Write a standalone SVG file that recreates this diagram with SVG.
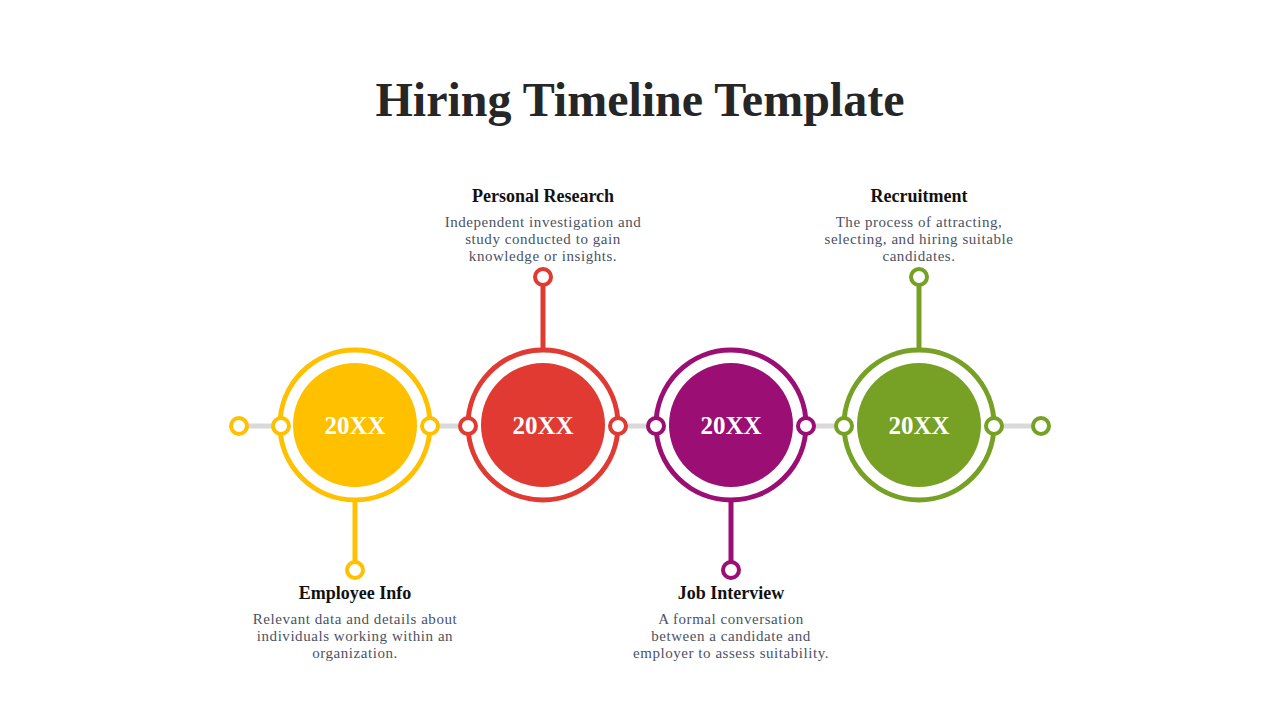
<svg xmlns="http://www.w3.org/2000/svg" width="1280" height="720" viewBox="0 0 1280 720">
<style>
.title{font-family:"Liberation Serif","DejaVu Serif",serif;font-weight:bold;font-size:48px;fill:#262626;text-anchor:middle}
.h{font-family:"Liberation Serif","DejaVu Serif",serif;font-weight:bold;font-size:18px;fill:#111;text-anchor:middle}
.d{font-family:"Liberation Serif","DejaVu Serif",serif;font-size:15px;letter-spacing:0.55px;fill:#4b5263;text-anchor:middle}
.yr{font-family:"Liberation Serif","DejaVu Serif",serif;font-weight:bold;font-size:25px;fill:#fff;text-anchor:middle}
.dot{fill:#fff;stroke-width:4}
.ring{fill:#fff;stroke-width:5}
.stem{stroke-width:5;fill:none}
</style>
<rect width="1280" height="720" fill="#fff"/>
<text class="title" x="640" y="116">Hiring Timeline Template</text>
<g id="connectors">
<line x1="239" y1="426" x2="1041" y2="426" stroke="#d9d9d9" stroke-width="5"/>
<line class="stem" x1="355" y1="500" x2="355" y2="562" stroke="#FFC000"/>
<line class="stem" x1="543" y1="285" x2="543" y2="350" stroke="#E03A33"/>
<line class="stem" x1="731" y1="500" x2="731" y2="562" stroke="#9B0E74"/>
<line class="stem" x1="919" y1="285" x2="919" y2="350" stroke="#76A125"/>
<circle class="dot" cx="239" cy="426" r="8" stroke="#FFC000"/>
<circle class="dot" cx="1041" cy="426" r="8" stroke="#76A125"/>
</g>
<g id="node1">
<circle class="ring" cx="355" cy="425" r="75" stroke="#FFC000"/>
<circle cx="355" cy="425" r="62" fill="#FFC000"/>
<circle class="dot" cx="281" cy="426" r="8" stroke="#FFC000"/>
<circle class="dot" cx="430" cy="426" r="8" stroke="#FFC000"/>
<circle class="dot" cx="355" cy="570" r="8" stroke="#FFC000"/>
<text class="yr" x="355" y="434">20XX</text>
<text class="h" x="355" y="599">Employee Info</text>
<text class="d" x="355" y="624">Relevant data and details about</text>
<text class="d" x="355" y="641">individuals working within an</text>
<text class="d" x="355" y="658">organization.</text>
</g>
<g id="node2">
<circle class="ring" cx="543" cy="425" r="75" stroke="#E03A33"/>
<circle cx="543" cy="425" r="62" fill="#E03A33"/>
<circle class="dot" cx="468" cy="426" r="8" stroke="#E03A33"/>
<circle class="dot" cx="618" cy="426" r="8" stroke="#E03A33"/>
<circle class="dot" cx="543" cy="277" r="8" stroke="#E03A33"/>
<text class="yr" x="543" y="434">20XX</text>
<text class="h" x="543" y="202">Personal Research</text>
<text class="d" x="543" y="227">Independent investigation and</text>
<text class="d" x="543" y="244">study conducted to gain</text>
<text class="d" x="543" y="261">knowledge or insights.</text>
</g>
<g id="node3">
<circle class="ring" cx="731" cy="425" r="75" stroke="#9B0E74"/>
<circle cx="731" cy="425" r="62" fill="#9B0E74"/>
<circle class="dot" cx="656" cy="426" r="8" stroke="#9B0E74"/>
<circle class="dot" cx="806" cy="426" r="8" stroke="#9B0E74"/>
<circle class="dot" cx="731" cy="570" r="8" stroke="#9B0E74"/>
<text class="yr" x="731" y="434">20XX</text>
<text class="h" x="731" y="599">Job Interview</text>
<text class="d" x="731" y="624">A formal conversation</text>
<text class="d" x="731" y="641">between a candidate and</text>
<text class="d" x="731" y="658">employer to assess suitability.</text>
</g>
<g id="node4">
<circle class="ring" cx="919" cy="425" r="75" stroke="#76A125"/>
<circle cx="919" cy="425" r="62" fill="#76A125"/>
<circle class="dot" cx="844" cy="426" r="8" stroke="#76A125"/>
<circle class="dot" cx="994" cy="426" r="8" stroke="#76A125"/>
<circle class="dot" cx="919" cy="277" r="8" stroke="#76A125"/>
<text class="yr" x="919" y="434">20XX</text>
<text class="h" x="919" y="202">Recruitment</text>
<text class="d" x="919" y="227">The process of attracting,</text>
<text class="d" x="919" y="244">selecting, and hiring suitable</text>
<text class="d" x="919" y="261">candidates.</text>
</g>
</svg>
